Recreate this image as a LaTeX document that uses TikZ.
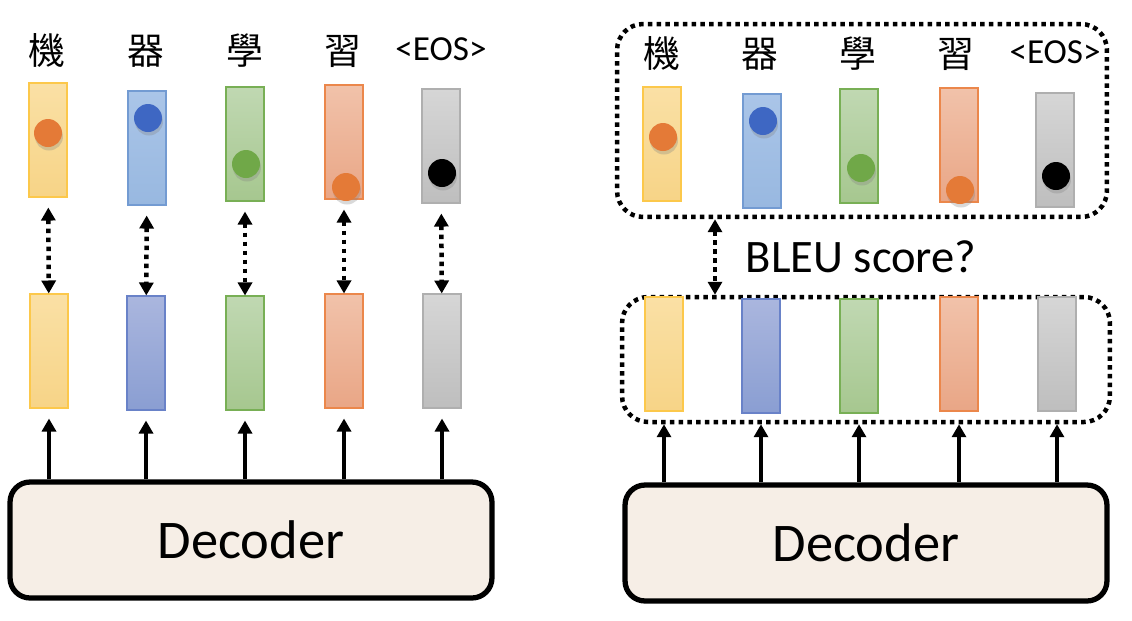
\documentclass[tikz,border=0pt]{standalone}
\usepackage{fontspec}
\setmainfont{Carlito}
\newfontfamily\cjk{Noto Sans CJK TC}
\usetikzlibrary{arrows.meta,shadows}
\definecolor{ji}{RGB}{252,200,75}
\definecolor{jilight}{RGB}{250,224,165}
\definecolor{jidark}{RGB}{247,212,135}
\definecolor{qi}{RGB}{115,155,210}
\definecolor{qilight}{RGB}{170,197,232}
\definecolor{qidark}{RGB}{152,184,224}
\definecolor{qiout}{RGB}{105,130,200}
\definecolor{qioutlight}{RGB}{170,182,222}
\definecolor{qioutdark}{RGB}{138,158,210}
\definecolor{xue}{RGB}{120,175,85}
\definecolor{xuelight}{RGB}{192,216,178}
\definecolor{xuedark}{RGB}{166,199,143}
\definecolor{xi}{RGB}{235,135,75}
\definecolor{xilight}{RGB}{241,194,170}
\definecolor{xidark}{RGB}{233,166,134}
\definecolor{eos}{RGB}{175,175,175}
\definecolor{eoslight}{RGB}{214,214,214}
\definecolor{eosdark}{RGB}{190,190,190}
\definecolor{orangeball}{RGB}{228,122,55}
\definecolor{blueball}{RGB}{62,103,195}
\definecolor{greenball}{RGB}{112,168,72}
\definecolor{decoderfill}{RGB}{246,238,230}
\tikzstyle{vec}=[draw, line width=0.6pt, minimum width=0.76cm, minimum height=2.28cm, inner sep=0pt]
\tikzstyle{ball}=[circle, minimum size=0.56cm, inner sep=0pt, drop shadow={shadow xshift=0.2mm, shadow yshift=-0.7mm, opacity=0.3}]
\tikzstyle{word}=[font=\cjk\fontsize{21}{21}\selectfont]
\tikzstyle{eosword}=[font=\fontsize{20}{20}\selectfont]
\tikzstyle{decoder}=[draw, rounded corners=0.4cm, line width=3pt, fill=decoderfill, minimum width=9.64cm, minimum height=2.32cm, font=\fontsize{31}{31}\selectfont]
\tikzset{up/.style={-{Triangle[width=0.28cm,length=0.26cm]}, line width=0.09cm}}
\tikzset{match/.style={{Triangle[width=0.28cm,length=0.26cm]}-{Triangle[width=0.28cm,length=0.26cm]}, line width=0.09cm, dash pattern=on 0.09cm off 0.09cm}}
\tikzset{group/.style={draw, rounded corners=0.52cm, line width=0.09cm, dash pattern=on 0.09cm off 0.085cm}}
\begin{document}
\begin{tikzpicture}[x=0.02cm,y=-0.02cm]
  \useasboundingbox (0,0) rectangle (1132,620);

  %% Left
  \draw (47,51) node[word] (LW1) {機};
  \draw (146,51) node[word] (LW2) {器};
  \draw (245,51) node[word] (LW3) {學};
  \draw (343,51) node[word] (LW4) {習};
  \draw (441,49) node[eosword] (LW5) {<EOS>};

  \draw (48,140) node[vec,draw=ji,top color=jilight,bottom color=jidark] (LT1) {};
  \draw (147,148) node[vec,draw=qi,top color=qilight,bottom color=qidark] (LT2) {};
  \draw (245,144) node[vec,draw=xue,top color=xuelight,bottom color=xuedark] (LT3) {};
  \draw (344,142) node[vec,draw=xi,top color=xilight,bottom color=xidark] (LT4) {};
  \draw (441,146) node[vec,draw=eos,top color=eoslight,bottom color=eosdark] (LT5) {};

  \draw (48,133) node[ball,fill=orangeball] (LD1) {};
  \draw (148,118) node[ball,fill=blueball] (LD2) {};
  \draw (246,164) node[ball,fill=greenball] (LD3) {};
  \draw (346,187) node[ball,fill=orangeball] (LD4) {};
  \draw (442,173) node[ball,fill=black] (LD5) {};

  \draw (49,351) node[vec,draw=ji,top color=jilight,bottom color=jidark] (LB1) {};
  \draw (146,353) node[vec,draw=qiout,top color=qioutlight,bottom color=qioutdark] (LB2) {};
  \draw (245,353) node[vec,draw=xue,top color=xuelight,bottom color=xuedark] (LB3) {};
  \draw (344,351) node[vec,draw=xi,top color=xilight,bottom color=xidark] (LB4) {};
  \draw (442,351) node[vec,draw=eos,top color=eoslight,bottom color=eosdark] (LB5) {};

  \draw (251,540) node[decoder] (LDec) {Decoder};

  \draw[match,shorten <=0.2cm] (LT1) -- (LB1);
  \draw[match,shorten <=0.2cm] (LT2) -- (LB2);
  \draw[match,shorten <=0.2cm] (LT3) -- (LB3);
  \draw[match,shorten <=0.2cm] (LT4) -- (LB4);
  \draw[match,shorten <=0.2cm] (LT5) -- (LB5);

  \draw[up,shorten >=0.2cm] (LB1 |- LDec.north) -- (LB1.south);
  \draw[up,shorten >=0.2cm] (LB2 |- LDec.north) -- (LB2.south);
  \draw[up,shorten >=0.2cm] (LB3 |- LDec.north) -- (LB3.south);
  \draw[up,shorten >=0.2cm] (LB4 |- LDec.north) -- (LB4.south);
  \draw[up,shorten >=0.2cm] (LB5 |- LDec.north) -- (LB5.south);

  %% Right
  \draw (862,120.5) node[group,minimum width=9.8cm,minimum height=3.86cm] (RTop) {};
  \draw (866,359.5) node[group,minimum width=9.76cm,minimum height=2.5cm] (RBot) {};

  \draw (662,54) node[word] (RW1) {機};
  \draw (760,54) node[word] (RW2) {器};
  \draw (858,54) node[word] (RW3) {學};
  \draw (956,54) node[word] (RW4) {習};
  \draw (1055,52) node[eosword] (RW5) {<EOS>};

  \draw (662,144) node[vec,draw=ji,top color=jilight,bottom color=jidark] (RT1) {};
  \draw (762,151) node[vec,draw=qi,top color=qilight,bottom color=qidark] (RT2) {};
  \draw (859,146) node[vec,draw=xue,top color=xuelight,bottom color=xuedark] (RT3) {};
  \draw (959,145) node[vec,draw=xi,top color=xilight,bottom color=xidark] (RT4) {};
  \draw (1055,150) node[vec,draw=eos,top color=eoslight,bottom color=eosdark] (RT5) {};

  \draw (663,137) node[ball,fill=orangeball] (RD1) {};
  \draw (763,121) node[ball,fill=blueball] (RD2) {};
  \draw (861,168) node[ball,fill=greenball] (RD3) {};
  \draw (960,190) node[ball,fill=orangeball] (RD4) {};
  \draw (1056,176) node[ball,fill=black] (RD5) {};

  \draw (664,354) node[vec,draw=ji,top color=jilight,bottom color=jidark] (RB1) {};
  \draw (761,356) node[vec,draw=qiout,top color=qioutlight,bottom color=qioutdark] (RB2) {};
  \draw (859,356) node[vec,draw=xue,top color=xuelight,bottom color=xuedark] (RB3) {};
  \draw (959,354) node[vec,draw=xi,top color=xilight,bottom color=xidark] (RB4) {};
  \draw (1057,354) node[vec,draw=eos,top color=eoslight,bottom color=eosdark] (RB5) {};

  \draw (861,257) node[font=\fontsize{26.5}{26.5}\selectfont] (BLEU) {BLEU score?};
  \coordinate (cmp) at (715,257);
  \draw[match] (cmp |- RTop.south) -- (cmp |- RBot.north);

  \draw (866,543) node[decoder] (RDec) {Decoder};

  \draw[up] (RB1 |- RDec.north) -- (RB1 |- RBot.south);
  \draw[up] (RB2 |- RDec.north) -- (RB2 |- RBot.south);
  \draw[up] (RB3 |- RDec.north) -- (RB3 |- RBot.south);
  \draw[up] (RB4 |- RDec.north) -- (RB4 |- RBot.south);
  \draw[up] (RB5 |- RDec.north) -- (RB5 |- RBot.south);
\end{tikzpicture}
\end{document}
